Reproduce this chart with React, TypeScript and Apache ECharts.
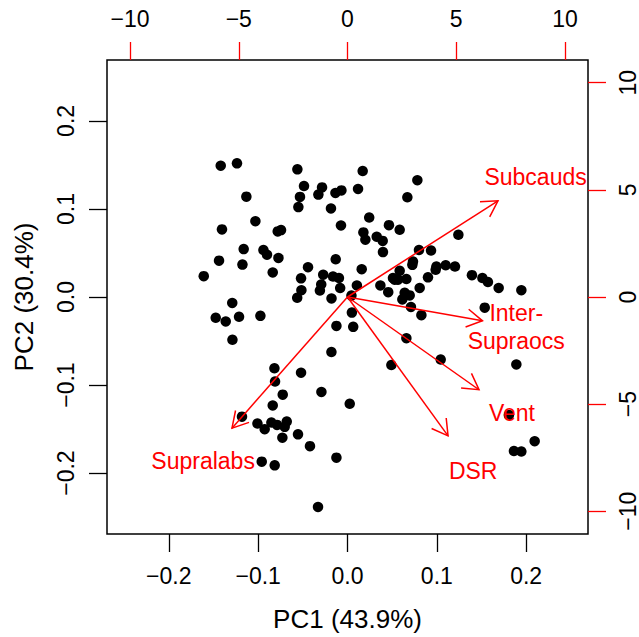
import React, { useEffect, useRef } from "react";
import * as echarts from "echarts";

// PCA scores (PC1, PC2)
const pc1 = [
  -0.1419, -0.1237, -0.0561, 0.017, -0.0487, -0.0285, -0.0326, -0.0135, -0.0068, 0.0118,
  -0.0532, -0.1132, -0.055, -0.0185, 0.0243, -0.1031, -0.0073, -0.1405, -0.0781, -0.0744,
  0.0464, 0.0178, 0.02, 0.0327, 0.0394, 0.0397, -0.1162, -0.0941, -0.0901, -0.0773,
  -0.1438, -0.1176, -0.0837, -0.1609, -0.0442, -0.0132, 0.0159, -0.052, -0.0272, -0.0162,
  -0.0096, -0.0294, -0.0309, -0.0516, -0.0563, -0.0082, -0.0179, 0.0105, 0.0368, 0.0456,
  -0.129, 0.0044, 0.0528, 0.0049, -0.0124, 0.0064, 0.0782, 0.067, 0.0584, 0.1241,
  0.08, 0.0935, 0.0733, 0.0726, 0.0584, 0.0995, 0.0987, 0.1099, 0.1203, 0.0509,
  0.0565, 0.0659, 0.0901, 0.0808, 0.064, 0.0696, 0.0614, 0.1393, 0.151, 0.1572,
  0.1692, 0.1946, 0.071, 0.1536, 0.0827, 0.0659, 0.0491, 0.1043, 0.189, 0.1807,
  0.2095, 0.1863, 0.1946, -0.1475, -0.1363, -0.1214, -0.0975, -0.1288, -0.018, -0.0818,
  -0.0811, -0.052, -0.0725, -0.0837, -0.0292, 0.0025, -0.1181, -0.1008, -0.0927, -0.0852,
  -0.0789, -0.0703, -0.068, -0.0729, -0.0554, -0.042, -0.096, -0.0815, -0.0124, -0.033,
];
const pc2 = [
  0.1491, 0.1518, 0.145, 0.1431, 0.126, 0.1245, 0.1163, 0.1182, 0.1211, 0.1227,
  0.1137, 0.114, 0.1021, 0.1006, 0.0903, 0.0861, 0.0813, 0.0768, 0.0745, 0.076,
  0.0816, 0.0734, 0.0651, 0.0685, 0.0637, 0.051, 0.0544, 0.0533, 0.048, 0.0443,
  0.0413, 0.0368, 0.0279, 0.0237, 0.0338, 0.0428, 0.0316, 0.0212, 0.0253, 0.0232,
  0.0215, 0.0142, 0.0073, 0.0077, -0.0009, 0.0102, -0.0017, 0.0131, 0.0131, 0.0055,
  -0.0068, 0.0016, 0.0197, -0.0177, -0.0328, -0.0339, 0.1327, 0.1133, 0.0763, 0.0707,
  0.0533, 0.0528, 0.0402, 0.0365, 0.0298, 0.0346, 0.0309, 0.036, 0.0346, 0.0215,
  0.0197, 0.0204, 0.0223, 0.0103, 0.0047, 0.0018, -0.0027, 0.0248, 0.0215, 0.017,
  0.0103, 0.0077, -0.0113, -0.0121, -0.0206, -0.0468, -0.0773, -0.071, -0.0766, -0.1341,
  -0.1638, -0.175, -0.1755, -0.0236, -0.0278, -0.0225, -0.0214, -0.0486, -0.0625, -0.081,
  -0.096, -0.086, -0.1109, -0.1232, -0.1079, -0.1213, -0.1359, -0.1437, -0.1501, -0.1426,
  -0.1453, -0.1475, -0.1415, -0.1598, -0.156, -0.1694, -0.187, -0.1912, -0.1825, -0.2385,
];

// Variable loadings (label positions, secondary axes)
const varNames = ["Subcauds", "Inter-\nSupraocs", "Vent", "DSR", "Supralabs"];
const varX = [8.65, 7.76, 7.56, 5.78, -6.64];
const varY = [5.61, -1.39, -5.41, -8.1, -7.65];

const scoreTicks = [-0.2, -0.1, 0, 0.1, 0.2];
const loadTicks = [-10, -5, 0, 5, 10];
const scoreLim = 0.2692;
const loadLim = 11.06;
const arrowScale = 0.8;

const FONT = '"Liberation Sans", Arial, Helvetica, sans-serif';
const FS = 23;
const FS_TITLE = 26;

const fmtScore = (v: number) => (v < 0 ? "\u2212" : "") + Math.abs(v).toFixed(1);
const fmtLoad = (v: number) => (v < 0 ? "\u2212" : "") + String(Math.abs(Math.round(v)));

export default function App() {
  const ref = useRef<HTMLDivElement>(null);
  useEffect(() => {
    if (!ref.current) return;
    const chart = echarts.init(ref.current, null, { renderer: "svg" });
    const labelBase = { fontSize: FS, fontFamily: FONT, color: "#000" };
    const noLine = { show: false, onZero: false };
    const option: any = {
      animation: false,
      backgroundColor: "#fff",
      grid: {
        left: 107,
        top: 60,
        right: 51,
        bottom: 96,
        show: true,
        borderColor: "#000",
        borderWidth: 1.5,
        backgroundColor: "transparent",
      },
      xAxis: [
        {
          type: "value",
          position: "bottom",
          min: -scoreLim,
          max: scoreLim,
          axisLine: noLine,
          splitLine: { show: false },
          axisTick: { show: true, length: 18, customValues: scoreTicks, lineStyle: { color: "#000", width: 1.3 } },
          axisLabel: { ...labelBase, margin: 30, customValues: scoreTicks, formatter: fmtScore },
          name: "PC1 (43.9%)",
          nameLocation: "middle",
          nameGap: 72,
          nameTextStyle: { fontSize: FS_TITLE, fontFamily: FONT, color: "#000" },
        },
        {
          type: "value",
          position: "top",
          min: -loadLim,
          max: loadLim,
          axisLine: noLine,
          splitLine: { show: false },
          axisTick: { show: true, length: 18, customValues: loadTicks, lineStyle: { color: "#f00", width: 1.3 } },
          axisLabel: { ...labelBase, margin: 30, customValues: loadTicks, formatter: fmtLoad },
        },
      ],
      yAxis: [
        {
          type: "value",
          position: "left",
          min: -scoreLim,
          max: scoreLim,
          axisLine: noLine,
          splitLine: { show: false },
          axisTick: { show: true, length: 18, customValues: scoreTicks, lineStyle: { color: "#000", width: 1.3 } },
          axisLabel: { ...labelBase, margin: 30, rotate: 90, customValues: scoreTicks, formatter: fmtScore },
          name: "PC2 (30.4%)",
          nameLocation: "middle",
          nameGap: 70,
          nameTextStyle: { fontSize: FS_TITLE, fontFamily: FONT, color: "#000" },
        },
        {
          type: "value",
          position: "right",
          min: -loadLim,
          max: loadLim,
          axisLine: noLine,
          splitLine: { show: false },
          axisTick: { show: true, length: 18, customValues: loadTicks, lineStyle: { color: "#f00", width: 1.3 } },
          axisLabel: { ...labelBase, margin: 28, rotate: 90, customValues: loadTicks, formatter: fmtLoad },
        },
      ],
      series: [
        {
          type: "scatter",
          xAxisIndex: 0,
          yAxisIndex: 0,
          symbol: "circle",
          symbolSize: 10.5,
          itemStyle: { color: "#000", opacity: 1 },
          data: pc1.map((x, i) => [x, pc2[i]]),
          z: 2,
        },
        {
          type: "custom",
          xAxisIndex: 1,
          yAxisIndex: 1,
          z: 5,
          data: varX.map((x, i) => [x, varY[i]]),
          encode: { x: 0, y: 1 },
          renderItem: (params: any, api: any) => {
            const x = api.value(0);
            const y = api.value(1);
            const o = api.coord([0, 0]);
            const t = api.coord([x * arrowScale, y * arrowScale]);
            const l = api.coord([x, y]);
            const dx = t[0] - o[0];
            const dy = t[1] - o[1];
            const len = Math.hypot(dx, dy) || 1;
            const ux = dx / len;
            const uy = dy / len;
            const H = 18;
            const a = Math.PI / 6;
            const c = Math.cos(a);
            const s = Math.sin(a);
            const h1 = [t[0] - H * (ux * c - uy * s), t[1] - H * (ux * s + uy * c)];
            const h2 = [t[0] - H * (ux * c + uy * s), t[1] - H * (-ux * s + uy * c)];
            return {
              type: "group",
              children: [
                { type: "line", shape: { x1: o[0], y1: o[1], x2: t[0], y2: t[1] }, style: { stroke: "#f00", lineWidth: 1.5 } },
                { type: "polyline", shape: { points: [h1, t, h2] }, style: { stroke: "#f00", lineWidth: 1.5, fill: null } },
                {
                  type: "text",
                  x: l[0],
                  y: l[1],
                  style: {
                    text: varNames[params.dataIndex],
                    fill: "#f00",
                    fontSize: FS,
                    fontFamily: FONT,
                    align: "center",
                    verticalAlign: "middle",
                    lineHeight: 28,
                  },
                },
              ],
            };
          },
        },
      ],
    };
    chart.setOption(option);
    return () => chart.dispose();
  }, []);
  return <div ref={ref} style={{ position: "fixed", left: 0, top: 0, width: 639, height: 637, background: "#fff" }} />;
}
